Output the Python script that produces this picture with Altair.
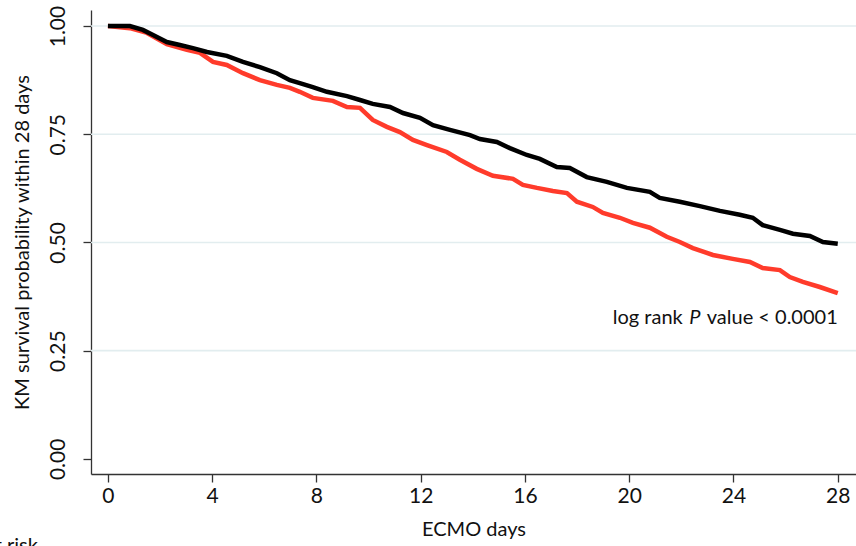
import altair as alt
import pandas as pd

# ---- data ----
days_black = [0, 0.84, 1.34, 1.73, 2.26, 2.76, 3.26, 3.80, 4.56, 5.18, 5.83, 6.48, 6.98, 7.36,
              7.86, 8.40, 9.17, 9.67, 10.16, 10.82, 11.32, 11.97, 12.47, 13.12, 13.89, 14.27,
              14.92, 15.42, 16.07, 16.57, 17.22, 17.72, 18.37, 19.14, 19.91, 20.79, 21.17,
              21.94, 22.71, 23.48, 24.24, 24.74, 25.12, 25.78, 26.28, 26.93, 27.43, 28.0]
surv_black = [1.000, 1.000, 0.991, 0.979, 0.963, 0.956, 0.949, 0.940, 0.931, 0.917, 0.905, 0.891,
              0.875, 0.868, 0.859, 0.848, 0.838, 0.829, 0.820, 0.813, 0.799, 0.788, 0.771, 0.760,
              0.748, 0.739, 0.732, 0.718, 0.702, 0.693, 0.674, 0.672, 0.651, 0.640, 0.626, 0.617,
              0.603, 0.594, 0.584, 0.573, 0.564, 0.557, 0.540, 0.529, 0.520, 0.515, 0.501, 0.497]

days_red = [0, 0.84, 1.50, 2.26, 3.03, 3.53, 4.03, 4.56, 5.18, 5.83, 6.48, 6.98, 7.36, 7.86, 8.63,
            9.17, 9.67, 10.16, 10.70, 11.20, 11.70, 12.24, 13.00, 13.50, 14.15, 14.77, 15.54,
            15.92, 16.46, 17.07, 17.61, 17.99, 18.60, 18.99, 19.64, 20.14, 20.79, 21.44, 21.94,
            22.44, 23.21, 23.97, 24.63, 25.12, 25.78, 26.16, 26.66, 27.31, 28.0]
surv_red = [1.000, 0.995, 0.984, 0.958, 0.945, 0.938, 0.917, 0.910, 0.891, 0.875, 0.864, 0.857,
            0.848, 0.834, 0.827, 0.813, 0.811, 0.783, 0.767, 0.755, 0.737, 0.725, 0.709, 0.691,
            0.670, 0.654, 0.647, 0.633, 0.626, 0.619, 0.614, 0.594, 0.582, 0.568, 0.557, 0.545,
            0.534, 0.513, 0.501, 0.487, 0.471, 0.462, 0.455, 0.441, 0.436, 0.420, 0.409, 0.397,
            0.383]

x_ticks = [0, 4, 8, 12, 16, 20, 24, 28]
y_ticks = [0.0, 0.25, 0.5, 0.75, 1.0]
grid_vals = [0.25, 0.5, 0.75, 1.0]

FONT = "Lato"
FS = 20

black_df = pd.DataFrame({"day": days_black, "surv": surv_black})
red_df = pd.DataFrame({"day": days_red, "surv": surv_red})
grid_df = pd.DataFrame({"surv": grid_vals})

xscale = alt.Scale(domain=[-0.65, 28.7], nice=False, zero=False)
yscale = alt.Scale(domain=[-0.035, 1.037], nice=False, zero=False)

xaxis = alt.Axis(values=x_ticks, title="ECMO days", grid=False, format="d",
                 labelFont=FONT, labelFontSize=21, titleFont=FONT, titleFontSize=FS,
                 titleFontWeight="normal", tickSize=8, labelPadding=3, titlePadding=13,
                 domainColor="#333", tickColor="#333", labelColor="#111", titleColor="#111",
                 domainWidth=1.3, tickWidth=1.3)
yaxis = alt.Axis(values=y_ticks, title="KM survival probability within 28 days", grid=False,
                 format=".2f", labelAngle=270, labelAlign="center", labelBaseline="bottom",
                 labelFont=FONT, labelFontSize=21, titleFont=FONT, titleFontSize=FS,
                 titleFontWeight="normal", tickSize=8, labelPadding=15, titlePadding=15,
                 domainColor="#333", tickColor="#333", labelColor="#111", titleColor="#111",
                 domainWidth=1.3, tickWidth=1.3)

grid = alt.Chart(grid_df).mark_rule(color="#e2edef", strokeWidth=1.6).encode(
    y=alt.Y("surv:Q", scale=yscale, axis=yaxis)
)

red_line = alt.Chart(red_df).mark_line(color="#ff3b2b", strokeWidth=4.5,
                                       interpolate="linear").encode(
    x=alt.X("day:Q", scale=xscale, axis=xaxis),
    y=alt.Y("surv:Q", scale=yscale, axis=yaxis),
)
black_line = alt.Chart(black_df).mark_line(color="#000000", strokeWidth=4.5,
                                           interpolate="linear").encode(
    x=alt.X("day:Q", scale=xscale, axis=xaxis),
    y=alt.Y("surv:Q", scale=yscale, axis=yaxis),
)

ann_df1 = pd.DataFrame({"day": [19.37], "surv": [0.312], "t": ["log rank"]})
ann_df2 = pd.DataFrame({"day": [22.3], "surv": [0.312], "t": ["P"]})
ann_df3 = pd.DataFrame({"day": [28.0], "surv": [0.312], "t": ["value < 0.0001"]})

def ann(df, align, style="normal"):
    return alt.Chart(df).mark_text(align=align, baseline="alphabetic", font=FONT, fontSize=FS,
                                   fontStyle=style, color="#111").encode(
        x=alt.X("day:Q", scale=xscale, axis=xaxis),
        y=alt.Y("surv:Q", scale=yscale, axis=yaxis),
        text="t:N",
    )

risk_df = pd.DataFrame({"day": [-2.69], "surv": [-0.215], "t": ["Number at risk"]})
risk = alt.Chart(risk_df).mark_text(align="right", baseline="alphabetic", font=FONT,
                                    fontSize=FS, color="#111").encode(
    x=alt.X("day:Q", scale=xscale, axis=xaxis),
    y=alt.Y("surv:Q", scale=yscale, axis=yaxis),
    text="t:N",
)

chart = alt.layer(
    grid, red_line, black_line,
    ann(ann_df1, "left"), ann(ann_df2, "left", "italic"), ann(ann_df3, "right"),
    risk,
).properties(
    width=765, height=464,
    autosize=alt.AutoSizeParams(type="none"),
    padding={"left": 91, "top": 10, "right": 0, "bottom": 72},
    background="white",
).configure_view(stroke=None)

chart.save("out.html", embed_options={"renderer": "svg", "actions": False})
